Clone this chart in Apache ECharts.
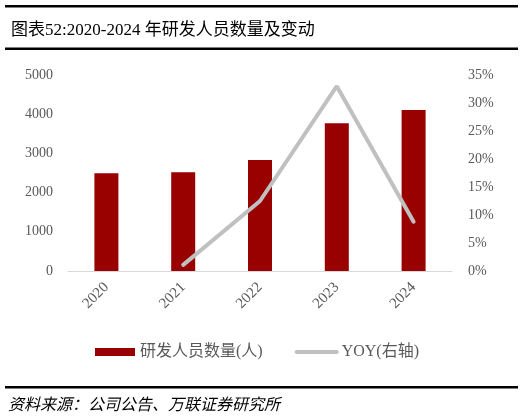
<!DOCTYPE html>
<html>
<head>
<meta charset="utf-8">
<script src="https://cdn.jsdelivr.net/npm/echarts@6/dist/echarts.min.js"></script>
<style>
  html, body { margin: 0; padding: 0; background: #fff; }
  #main { width: 524px; height: 418px; }
</style>
</head>
<body>
<div id="main"></div>
<script>
// 数据
var years = ['2020', '2021', '2022', '2023', '2024'];
var staff = [2492, 2518, 2832, 3768, 4107];
var yoy = [null, 1.1, 12.5, 33.0, 8.8];
var leftTicks = [0, 1000, 2000, 3000, 4000, 5000];
var rightTicks = [0, 5, 10, 15, 20, 25, 30, 35];

var serif = '"Liberation Serif", "Noto Sans CJK SC", serif';
var gray = '#595959';

var chart = echarts.init(document.getElementById('main'));

var option = {
  backgroundColor: '#fff',
  animation: false,
  title: {
    text: '图表52:2020-2024 年研发人员数量及变动',
    left: 6,
    top: 17,
    textStyle: { fontFamily: serif, fontSize: 17, fontWeight: 'normal', color: '#000' }
  },
  graphic: [
    { type: 'rect', shape: { x: 5, y: 5, width: 513, height: 2.5 }, style: { fill: '#000' } },
    { type: 'rect', shape: { x: 5, y: 47.5, width: 513, height: 2.5 }, style: { fill: '#000' } },
    { type: 'rect', shape: { x: 5, y: 386, width: 513, height: 2.5 }, style: { fill: '#000' } },
    {
      type: 'text', left: 8, top: 398,
      style: { text: '资料来源：公司公告、万联证券研究所', font: 'italic 16px ' + serif, fill: '#000' }
    }
  ],
  legend: {
    top: 339,
    left: 90,
    itemGap: 32,
    itemWidth: 40,
    itemHeight: 8,
    textStyle: { fontFamily: serif, fontSize: 16, color: gray },
    data: [
      { name: '研发人员数量(人)', icon: 'rect' },
      { name: 'YOY(右轴)', itemStyle: { opacity: 0 }, lineStyle: { width: 4, color: '#c0c0c0' } }
    ]
  },
  grid: { left: 68, right: 72, top: 75, bottom: 147 },
  xAxis: {
    type: 'category',
    data: years,
    axisTick: { show: false },
    axisLine: { lineStyle: { color: '#d9d9d9', width: 1 } },
    axisLabel: { rotate: 45, margin: 14, fontFamily: serif, fontSize: 15, color: gray }
  },
  yAxis: [
    {
      type: 'value',
      min: leftTicks[0],
      max: leftTicks[leftTicks.length - 1],
      interval: 1000,
      splitLine: { show: false },
      axisLine: { show: false },
      axisTick: { show: false },
      axisLabel: { margin: 15, fontFamily: serif, fontSize: 14, color: gray, formatter: function (v) { return String(v); } }
    },
    {
      type: 'value',
      min: rightTicks[0],
      max: rightTicks[rightTicks.length - 1],
      interval: 5,
      splitLine: { show: false },
      axisLine: { show: false },
      axisTick: { show: false },
      axisLabel: { margin: 16, fontFamily: serif, fontSize: 14, color: gray, formatter: '{value}%' }
    }
  ],
  series: [
    {
      name: '研发人员数量(人)',
      type: 'bar',
      barWidth: 24,
      data: staff,
      itemStyle: { color: '#990000' }
    },
    {
      name: 'YOY(右轴)',
      type: 'line',
      yAxisIndex: 1,
      data: yoy,
      symbol: 'none',
      lineStyle: { color: '#c0c0c0', width: 4, cap: 'round' },
      itemStyle: { color: '#c0c0c0' }
    }
  ]
};

chart.setOption(option);
</script>
</body>
</html>
